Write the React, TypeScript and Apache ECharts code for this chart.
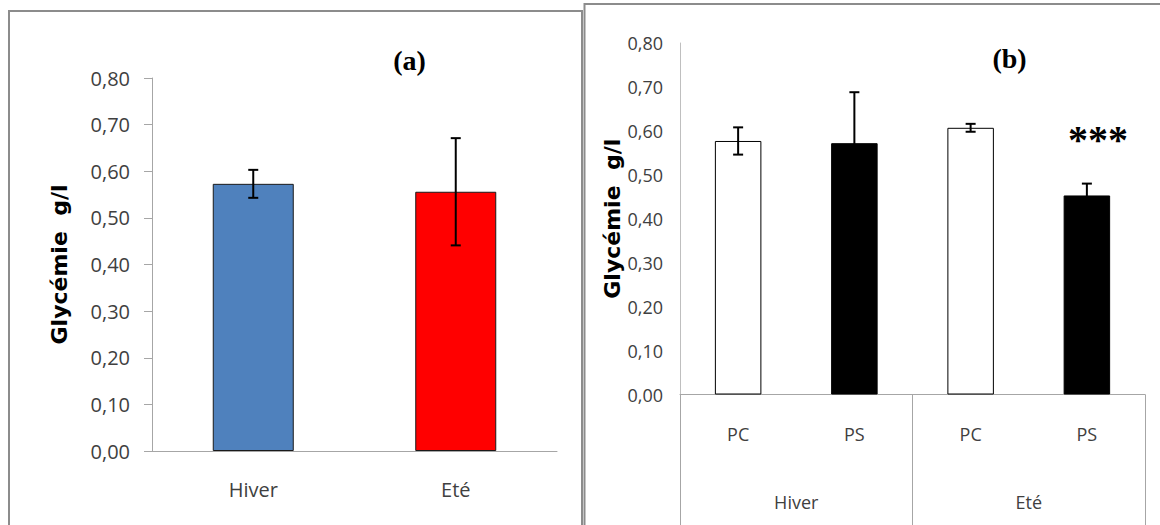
import React, { useEffect, useRef } from "react";
import * as echarts from "echarts";

// ---- data ----
const leftCategories = ["Hiver", "Eté"];
const leftMeans = [0.573, 0.556];
const leftErrors = [0.03, 0.115];

const rightCategories = ["PC", "PS", "PC", "PS"];
const rightGroups = ["Hiver", "Eté"];
const rightMeans = [0.577, 0.572, 0.607, 0.453];
const rightErrors = [0.031, 0.116, 0.009, 0.027];

const yMin = 0;
const yMax = 0.8;
const yInterval = 0.1;
const yAxisName = "Glycémie  g/l";

// ---- styles ----
const leftColors = ["#4f81bd", "#ff0000"];
const rightColors = ["#ffffff", "#000000", "#ffffff", "#000000"];
const axisGray = "#a6a6a6";
const labelColor = "#404040";

const fmt = (v: number) => v.toFixed(2).replace(".", ",");

function errorBarRenderer(params: any, api: any) {
  const x = api.value(0);
  const m = api.value(1);
  const e = api.value(2);
  const top = api.coord([x, m + e]);
  const bot = api.coord([x, m - e]);
  const hw = 5;
  const style = { stroke: "#000000", lineWidth: 2 };
  return {
    type: "group",
    children: [
      { type: "line", shape: { x1: top[0], y1: top[1], x2: bot[0], y2: bot[1] }, style },
      { type: "line", shape: { x1: top[0] - hw, y1: top[1], x2: top[0] + hw, y2: top[1] }, style },
      { type: "line", shape: { x1: bot[0] - hw, y1: bot[1], x2: bot[0] + hw, y2: bot[1] }, style },
    ],
  };
}

export default function App() {
  const ref = useRef<HTMLDivElement>(null);

  useEffect(() => {
    if (!ref.current) return;
    const chart = echarts.init(ref.current, null, { renderer: "svg" });

    const leftLabelFont = { fontFamily: "'Open Sans'", fontSize: 20, color: labelColor };
    const rightLabelFont = {
      fontFamily: "'Open Sans'",
      fontSize: 18,
      color: labelColor,
    };
    const nameStyle = {
      fontFamily: "'DejaVu Sans'",
      fontWeight: "bold" as const,
      fontSize: 22,
      color: "#000000",
    };

    chart.setOption({
      animation: false,
      backgroundColor: "#ffffff",
      grid: [
        { left: 152, top: 78, width: 405, height: 373 },
        { left: 680, top: 43, width: 465, height: 351.5 },
      ],
      xAxis: [
        {
          gridIndex: 0,
          type: "category",
          data: leftCategories,
          axisLine: { lineStyle: { color: axisGray, width: 1 } },
          axisTick: { show: false },
          axisLabel: { ...leftLabelFont, margin: 28 },
        },
        {
          gridIndex: 1,
          type: "category",
          data: rightCategories,
          axisLine: { lineStyle: { color: axisGray, width: 1 } },
          axisTick: { show: false },
          axisLabel: { ...rightLabelFont, margin: 30 },
        },
        {
          gridIndex: 1,
          type: "category",
          data: rightGroups,
          position: "bottom",
          axisLine: { show: false },
          axisTick: { show: true, length: 140, lineStyle: { color: axisGray, width: 1 } },
          axisLabel: { ...rightLabelFont, margin: 98 },
        },
      ],
      yAxis: [
        {
          gridIndex: 0,
          type: "value",
          min: yMin,
          max: yMax,
          interval: yInterval,
          splitLine: { show: false },
          axisLine: { show: true, lineStyle: { color: axisGray, width: 1 } },
          axisTick: { show: true, length: 8, lineStyle: { color: axisGray } },
          axisLabel: { ...leftLabelFont, margin: 22, formatter: fmt },
          name: yAxisName,
          nameLocation: "middle",
          nameGap: 82,
          nameTextStyle: nameStyle,
        },
        {
          gridIndex: 1,
          type: "value",
          min: yMin,
          max: yMax,
          interval: yInterval,
          splitLine: { show: false },
          axisLine: { show: true, lineStyle: { color: "#bfbfbf", width: 1 } },
          axisTick: { show: false },
          axisLabel: { ...rightLabelFont, margin: 17, formatter: fmt },
          name: yAxisName,
          nameLocation: "middle",
          nameGap: 54,
          nameTextStyle: nameStyle,
        },
      ],
      series: [
        {
          type: "bar",
          xAxisIndex: 0,
          yAxisIndex: 0,
          barWidth: "40%",
          data: leftMeans.map((v, i) => ({
            value: v,
            itemStyle: { color: leftColors[i], borderColor: "#1a1a1a", borderWidth: 1 },
          })),
        },
        {
          type: "custom",
          xAxisIndex: 0,
          yAxisIndex: 0,
          renderItem: errorBarRenderer,
          encode: { x: 0, y: 1 },
          data: leftMeans.map((m, i) => [i, m, leftErrors[i]]),
          z: 10,
        },
        {
          type: "bar",
          xAxisIndex: 1,
          yAxisIndex: 1,
          barWidth: "40%",
          data: rightMeans.map((v, i) => ({
            value: v,
            itemStyle: { color: rightColors[i], borderColor: "#000000", borderWidth: 1 },
          })),
        },
        {
          type: "custom",
          xAxisIndex: 1,
          yAxisIndex: 1,
          renderItem: errorBarRenderer,
          encode: { x: 0, y: 1 },
          data: rightMeans.map((m, i) => [i, m, rightErrors[i]]),
          z: 10,
        },
      ],
      graphic: [
        {
          type: "rect",
          silent: true,
          z: -1,
          shape: { x: 9, y: 11, width: 573, height: 600 },
          style: { fill: "none", stroke: "#8c8c8c", lineWidth: 2 },
        },
        {
          type: "rect",
          silent: true,
          z: -1,
          shape: { x: 584.5, y: 4, width: 700, height: 600 },
          style: { fill: "none", stroke: "#8c8c8c", lineWidth: 2 },
        },
        {
          type: "text",
          x: 409.5,
          y: 60,
          style: {
            text: "(a)",
            font: "bold 28px 'Liberation Serif'",
            fill: "#000000",
            textAlign: "center",
            textVerticalAlign: "middle",
          },
        },
        {
          type: "text",
          x: 1009.5,
          y: 58,
          style: {
            text: "(b)",
            font: "bold 28px 'Liberation Serif'",
            fill: "#000000",
            textAlign: "center",
            textVerticalAlign: "middle",
          },
        },
        {
          type: "text",
          x: 1098,
          y: 139,
          style: {
            text: "***",
            font: "bold 40px 'Liberation Serif'",
            fill: "#000000",
            textAlign: "center",
            textVerticalAlign: "middle",
          },
        },
      ],
    });

    return () => chart.dispose();
  }, []);

  return (
    <div
      ref={ref}
      style={{ position: "absolute", left: 0, top: 0, width: 1160, height: 525 }}
    />
  );
}
